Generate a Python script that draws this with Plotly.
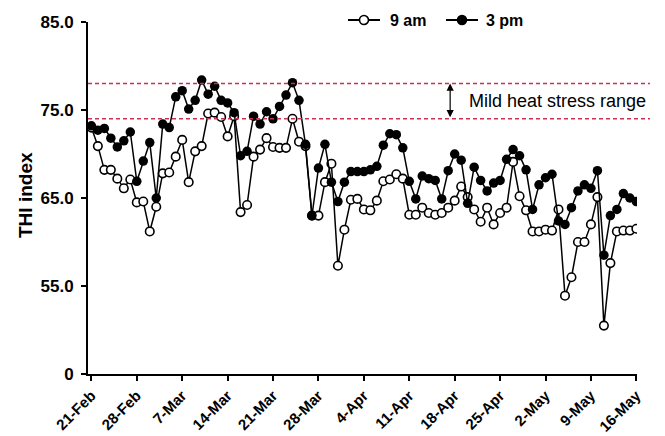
import plotly.graph_objects as go
import pandas as pd

# ---- data ----
dates = pd.date_range("2013-02-21", "2013-05-16", freq="D")

thi_9am = [
    73.0, 70.9, 68.2, 68.2, 67.2, 66.1, 67.1, 64.5, 64.6, 61.2,
    64.0, 67.8, 67.9, 69.7, 71.6, 66.8, 70.3, 70.9, 74.6, 74.7,
    74.2, 72.0, 74.3, 63.4, 64.2, 69.7, 70.5, 71.8, 70.8, 70.7,
    70.7, 74.0, 71.4, 70.9, 63.0, 63.0, 66.8, 68.9, 57.3, 61.4,
    64.8, 64.9, 63.7, 63.6, 64.7, 66.9, 67.1, 67.7, 67.2, 63.1,
    63.1, 63.9, 63.3, 63.1, 63.3, 63.9, 64.7, 66.3, 65.1, 63.7,
    62.3, 63.9, 62.0, 63.3, 63.9, 69.1, 65.2, 63.6, 61.2, 61.2,
    61.4, 61.3, 63.7, 53.9, 56.0, 60.0, 60.0, 62.0, 65.1, 50.5,
    57.6, 61.2, 61.3, 61.3, 61.5,
]

thi_3pm = [
    73.2, 72.7, 72.9, 71.8, 70.8, 71.5, 72.5, 66.9, 69.2, 71.3,
    65.0, 73.4, 73.0, 76.5, 77.2, 75.1, 76.1, 78.4, 76.8, 77.7,
    76.1, 75.8, 74.7, 69.8, 70.3, 74.3, 73.4, 74.8, 74.0, 75.4,
    76.7, 78.1, 76.1, 71.1, 63.0, 68.4, 71.1, 66.8, 64.6, 66.8,
    68.0, 68.0, 68.0, 68.2, 68.6, 71.0, 72.3, 72.2, 70.7, 66.9,
    64.9, 67.5, 67.2, 67.0, 64.9, 68.1, 70.0, 69.3, 64.4, 68.5,
    67.0, 65.8, 66.7, 67.0, 69.4, 70.5, 69.8, 68.2, 63.7, 66.5,
    67.3, 67.7, 62.4, 62.0, 63.9, 65.8, 66.5, 66.1, 68.1, 58.5,
    63.0, 63.7, 65.5, 65.0, 64.6,
]

series_names = ["9 am", "3 pm"]
y_tick_vals = [45, 55, 65, 75, 85]
y_tick_text = ["0", "55.0", "65.0", "75.0", "85.0"]
stress_range = [74, 78]
stress_label = "Mild heat stress range"
y_title = "THI index"

# ---- layout geometry (pixels) ----
W, H = 665, 436
L, R, T, B = 88, 28, 22, 62
PW, PH = W - L - R, H - T - B


def px_x(px):
    return (px - L) / PW


def px_y(py):
    return (H - B - py) / PH


FONT = "Liberation Sans, Arial, sans-serif"

fig = go.Figure()
styles = [
    dict(marker=dict(symbol="circle", size=8.5, color="white",
                     line=dict(color="black", width=1.6))),
    dict(marker=dict(symbol="circle", size=9.5, color="black",
                     line=dict(color="black", width=0))),
]
for name, vals, st in zip(series_names, [thi_9am, thi_3pm], styles):
    fig.add_trace(go.Scatter(
        x=dates, y=vals, name=name, mode="lines+markers",
        line=dict(color="black", width=1.5), showlegend=False, **st,
    ))

# manual legend (glyph + label) to keep the plot area fixed
legend_items = [(364, 388, "white"), (462, 484, "black")]
for (cx, tx, fill), name in zip(legend_items, series_names):
    yy = px_y(20)
    fig.add_shape(type="line", xref="paper", yref="paper",
                  x0=px_x(cx - 16), x1=px_x(cx + 16), y0=yy, y1=yy,
                  line=dict(color="black", width=2))
    fig.add_shape(type="circle", xref="paper", yref="paper",
                  xsizemode="pixel", ysizemode="pixel",
                  xanchor=px_x(cx), yanchor=yy, x0=-4.5, x1=4.5, y0=-4.5, y1=4.5,
                  fillcolor=fill, line=dict(color="black", width=1.6))
    fig.add_annotation(x=px_x(tx), y=yy, xref="paper", yref="paper", text=name,
                       showarrow=False, xanchor="left", yanchor="middle",
                       font=dict(family=FONT, size=16, color="black", weight="bold"))

for v in stress_range:
    fig.add_shape(type="line", xref="paper", yref="y", x0=0, x1=px_x(650),
                  y0=v, y1=v, line=dict(color="#cc2f55", width=1.5, dash="4px,3px"))

day = pd.Timedelta(days=1)
arrow_x = dates[0] + 55.3 * day
fig.add_annotation(x=arrow_x, y=stress_range[1], ax=arrow_x, ay=stress_range[0],
                   xref="x", yref="y", axref="x", ayref="y", text="",
                   showarrow=True, arrowhead=2, startarrowhead=2, arrowside="end+start",
                   arrowsize=1.2, arrowwidth=1.2, arrowcolor="black")
fig.add_annotation(x=px_x(467), y=sum(stress_range) / 2, xref="paper", yref="y",
                   text=stress_label, showarrow=False, xanchor="left", yanchor="middle",
                   font=dict(family=FONT, size=18, color="black", weight="normal"))
fig.add_annotation(x=px_x(25), y=px_y(195), xref="paper", yref="paper", text=y_title,
                   textangle=-90, showarrow=False, xanchor="center", yanchor="middle",
                   font=dict(family=FONT, size=19, color="black", weight="bold"))

fig.update_layout(
    template="none",
    width=W, height=H,
    margin=dict(l=L, r=R, t=T, b=B, pad=0),
    paper_bgcolor="white", plot_bgcolor="white",
    font=dict(family=FONT, size=16, color="black", weight="bold"),
    showlegend=False,
)
fig.update_xaxes(
    automargin=False,
    range=[dates[0] - 0.52 * day, dates[0] + 84.1 * day],
    tick0=dates[0], dtick=7 * 86400000, tickformat="%-d-%b", tickangle=-45,
    showline=True, linecolor="black", linewidth=2,
    ticks="outside", ticklen=5, tickwidth=2, tickcolor="black",
    showgrid=False, zeroline=False,
    tickfont=dict(family=FONT, size=15, color="black", weight="bold"),
)
fig.update_yaxes(
    automargin=False,
    range=[45, 85], tickvals=y_tick_vals, ticktext=y_tick_text,
    showline=True, linecolor="black", linewidth=2,
    ticks="outside", ticklen=5, tickwidth=2, tickcolor="black",
    showgrid=False, zeroline=False, ticklabelstandoff=4,
    tickfont=dict(family=FONT, size=17, color="black", weight="bold"),
)

fig.write_html(
    "out.html",
    config={"displayModeBar": False},
    post_script="document.body.style.margin='0';document.body.style.overflow='hidden';",
)
